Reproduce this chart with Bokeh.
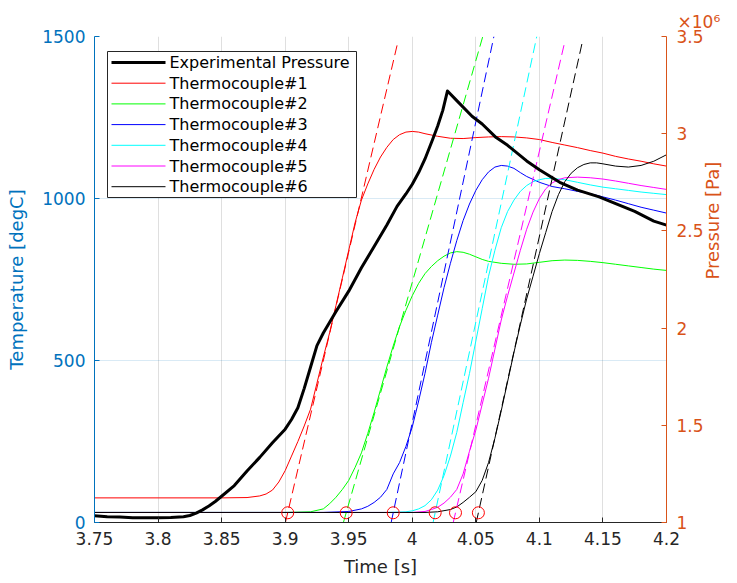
from bokeh.plotting import figure
from bokeh.models import (Range1d, LinearAxis, FixedTicker, Title, ColumnDataSource)
from bokeh.core.properties import value
from bokeh.embed import file_html
from bokeh.resources import INLINE

# ---------------- data ----------------
x_ticks = [3.75, 3.8, 3.85, 3.9, 3.95, 4.0, 4.05, 4.1, 4.15, 4.2]
x_tick_labels = ["3.75", "3.8", "3.85", "3.9", "3.95", "4", "4.05", "4.1", "4.15", "4.2"]
t_ticks = [0, 500, 1000, 1500]
p_ticks = [1.0, 1.5, 2.0, 2.5, 3.0, 3.5]
p_tick_labels = ["1", "1.5", "2", "2.5", "3", "3.5"]

# Experimental pressure (x10^6 Pa)
t_p = [3.75, 3.76, 3.77, 3.78, 3.79, 3.80, 3.81, 3.82, 3.825, 3.83, 3.835, 3.84, 3.845,
       3.85, 3.86, 3.87, 3.88, 3.89, 3.90, 3.905, 3.91, 3.915, 3.92, 3.925, 3.93, 3.935,
       3.94, 3.95, 3.96, 3.97, 3.98, 3.988, 3.995, 4.00, 4.005, 4.01, 4.016, 4.02, 4.024,
       4.0277, 4.035, 4.047, 4.055, 4.066, 4.075, 4.09, 4.10, 4.116, 4.13, 4.147, 4.16,
       4.175, 4.19, 4.20]
pressure = [1.035, 1.030, 1.028, 1.025, 1.024, 1.024, 1.026, 1.030, 1.036, 1.048, 1.065,
            1.085, 1.108, 1.135, 1.19, 1.265, 1.335, 1.41, 1.48, 1.53, 1.59, 1.69, 1.80,
            1.91, 1.975, 2.03, 2.085, 2.19, 2.31, 2.42, 2.53, 2.626, 2.69, 2.74, 2.80, 2.87,
            2.97, 3.04, 3.12, 3.22, 3.17, 3.09, 3.05, 2.98, 2.94, 2.86, 2.815, 2.75, 2.71,
            2.675, 2.64, 2.60, 2.55, 2.53]

# Thermocouple #1 (red)
t_tc1 = [3.75, 3.80, 3.85, 3.87, 3.88, 3.885, 3.89, 3.895, 3.90, 3.905, 3.91, 3.915, 3.92,
         3.925, 3.93, 3.935, 3.94, 3.945, 3.95, 3.955, 3.96, 3.965, 3.97, 3.975, 3.98,
         3.985, 3.99, 3.995, 4.00, 4.005, 4.01, 4.02, 4.03, 4.04, 4.05, 4.06, 4.07, 4.08,
         4.09, 4.10, 4.11, 4.12, 4.13, 4.14, 4.15, 4.16, 4.17, 4.18, 4.19, 4.20]
T_tc1 = [76, 76, 76, 77, 82, 88, 100, 125, 160, 205, 250, 298, 350, 430, 510, 586, 670,
         755, 840, 925, 995, 1045, 1090, 1128, 1158, 1182, 1197, 1205, 1207, 1205, 1200,
         1192, 1186, 1185, 1188, 1190, 1191, 1190, 1187, 1182, 1173, 1165, 1157, 1148,
         1140, 1130, 1122, 1115, 1107, 1100]

# Thermocouple #2 (green)
t_tc2 = [3.75, 3.90, 3.92, 3.93, 3.935, 3.94, 3.945, 3.95, 3.955, 3.96, 3.965, 3.97, 3.975,
         3.98, 3.985, 3.99, 3.995, 4.00, 4.005, 4.01, 4.015, 4.02, 4.025, 4.03, 4.035, 4.04,
         4.045, 4.05, 4.055, 4.06, 4.07, 4.08, 4.09, 4.10, 4.11, 4.12, 4.13, 4.14, 4.15,
         4.16, 4.17, 4.18, 4.19, 4.20]
T_tc2 = [31, 31, 33, 42, 58, 78, 102, 130, 170, 215, 275, 340, 410, 480, 545, 605, 655,
         700, 738, 768, 790, 808, 822, 832, 836, 834, 828, 820, 812, 806, 800, 797, 798,
         803, 808, 810, 809, 806, 802, 797, 792, 787, 782, 778]

# Thermocouple #3 (blue)
t_tc3 = [3.75, 3.93, 3.95, 3.96, 3.965, 3.97, 3.975, 3.98, 3.985, 3.99, 3.995, 4.00, 4.005,
         4.01, 4.015, 4.02, 4.025, 4.03, 4.035, 4.04, 4.045, 4.05, 4.055, 4.06, 4.065, 4.07,
         4.075, 4.08, 4.085, 4.09, 4.10, 4.11, 4.12, 4.13, 4.14, 4.15, 4.16, 4.17, 4.18,
         4.19, 4.20]
T_tc3 = [31, 31, 34, 42, 50, 62, 78, 102, 150, 185, 235, 295, 375, 460, 555, 640, 725, 800,
         870, 932, 983, 1025, 1058, 1082, 1097, 1102, 1100, 1093, 1080, 1068, 1050, 1037,
         1030, 1022, 1015, 1005, 995, 984, 973, 964, 955]

# Thermocouple #4 (cyan)
t_tc4 = [3.75, 3.98, 3.995, 4.00, 4.005, 4.01, 4.015, 4.02, 4.025, 4.03, 4.035, 4.04, 4.045,
         4.05, 4.055, 4.06, 4.065, 4.07, 4.075, 4.08, 4.085, 4.09, 4.095, 4.10, 4.105, 4.11,
         4.12, 4.13, 4.14, 4.15, 4.16, 4.17, 4.18, 4.19, 4.20]
T_tc4 = [31, 31, 33, 36, 42, 52, 70, 100, 145, 205, 278, 370, 460, 560, 660, 760, 840, 910,
         960, 995, 1022, 1040, 1052, 1058, 1062, 1062, 1058, 1050, 1042, 1035, 1030, 1025,
         1020, 1016, 1012]

# Thermocouple #5 (magenta)
t_tc5 = [3.75, 4.00, 4.01, 4.015, 4.02, 4.025, 4.03, 4.035, 4.04, 4.045, 4.05, 4.055, 4.06,
         4.065, 4.07, 4.075, 4.08, 4.085, 4.09, 4.095, 4.10, 4.105, 4.11, 4.115, 4.12, 4.13,
         4.14, 4.15, 4.16, 4.17, 4.18, 4.19, 4.20]
T_tc5 = [31, 31, 34, 40, 47, 60, 78, 102, 150, 220, 285, 365, 445, 535, 625, 700, 770, 840,
         905, 958, 1000, 1030, 1048, 1058, 1064, 1066, 1064, 1060, 1054, 1047, 1040, 1034,
         1028]

# Thermocouple #6 (black)
t_tc6 = [3.75, 4.01, 4.02, 4.03, 4.035, 4.04, 4.045, 4.05, 4.055, 4.06, 4.065, 4.07, 4.075,
         4.08, 4.085, 4.09, 4.095, 4.10, 4.105, 4.11, 4.115, 4.12, 4.125, 4.13, 4.135, 4.14,
         4.145, 4.15, 4.16, 4.17, 4.18, 4.19, 4.20]
T_tc6 = [31, 31, 33, 40, 48, 62, 78, 95, 130, 185, 260, 345, 435, 525, 610, 690, 760, 830,
         895, 960, 1012, 1052, 1078, 1095, 1105, 1110, 1110, 1107, 1100, 1097, 1102, 1115,
         1135]

# Onset points (red circles) and tangent lines (dashed)
onset_t = [3.902, 3.948, 3.985, 4.018, 4.034, 4.052]
onset_T = [30, 30, 30, 30, 30, 30]
tangent_slope = [16770, 13680, 18560, 18390, 16910, 17770]  # degC / s
tangent_top_T = [1480, 1500, 1500, 1500, 1480, 1485]

tc_names = ["Thermocouple#1", "Thermocouple#2", "Thermocouple#3",
            "Thermocouple#4", "Thermocouple#5", "Thermocouple#6"]
tc_colors = ["#FF0000", "#00FF00", "#0000FF", "#00FFFF", "#FF00FF", "#000000"]
tc_t = [t_tc1, t_tc2, t_tc3, t_tc4, t_tc5, t_tc6]
tc_T = [T_tc1, T_tc2, T_tc3, T_tc4, T_tc5, T_tc6]

legend_labels = ["Experimental Pressure"] + tc_names
legend_colors = ["#000000"] + tc_colors
legend_widths = [3, 1, 1, 1, 1, 1, 1]

# ---------------- layout / styling ----------------
FONT = "DejaVu Sans"
BLUE = "#0072BD"
ORANGE = "#D95319"
DARK = "#262626"

W, H = 736, 582
BL, BR, BT, BB = 94, 70, 36, 60
X0, X1 = 3.75, 4.2
Y0, Y1 = 0, 1500

p = figure(width=W, height=H,
           x_range=Range1d(X0, X1), y_range=Range1d(Y0, Y1),
           output_backend="svg", toolbar_location=None,
           min_border_left=BL, min_border_right=BR, min_border_top=BT,
           min_border_bottom=BB)
p.title = Title(text="×10⁶", align="left", offset=583, text_color=ORANGE,
                text_font=FONT, text_font_size="17px", text_font_style="normal",
                standoff=10)
p.extra_y_ranges = {"p": Range1d(1.0, 3.5)}
p.outline_line_color = None
p.background_fill_color = "white"
p.border_fill_color = "white"

xt = FixedTicker(ticks=x_ticks)
yt = FixedTicker(ticks=t_ticks)
p.xaxis.ticker = xt
p.yaxis.ticker = yt
p.xgrid.ticker = xt
p.ygrid.ticker = yt
p.xgrid.grid_line_color = DARK
p.xgrid.grid_line_alpha = 0.15
p.ygrid.grid_line_color = BLUE
p.ygrid.grid_line_alpha = 0.15


def style_axis(ax, col):
    ax.axis_line_color = col
    ax.major_tick_line_color = col
    ax.minor_tick_line_color = None
    ax.major_tick_in = 5
    ax.major_tick_out = 0
    ax.major_label_text_color = col
    ax.major_label_text_font = FONT
    ax.major_label_text_font_size = "17px"
    ax.axis_label_text_color = col
    ax.axis_label_text_font = FONT
    ax.axis_label_text_font_size = "18px"
    ax.axis_label_text_font_style = "normal"


xa = p.xaxis[0]
style_axis(xa, DARK)
xa.major_label_overrides = {v: s for v, s in zip(x_ticks, x_tick_labels)}
xa.axis_label = "Time [s]"
xa.major_label_standoff = 9
xa.axis_label_standoff = 8

ya = p.yaxis[0]
style_axis(ya, BLUE)
ya.axis_label = "Temperature [degC]"
ya.major_label_standoff = 9
ya.axis_label_standoff = 12

ra = LinearAxis(y_range_name="p", ticker=FixedTicker(ticks=p_ticks))
style_axis(ra, ORANGE)
ra.major_label_overrides = {v: s for v, s in zip(p_ticks, p_tick_labels)}
ra.axis_label = "Pressure [Pa]"
ra.major_label_standoff = 10
ra.axis_label_standoff = 6
ra.axis_label_orientation = 1.5707963
p.add_layout(ra, "right")

# ---------------- glyphs ----------------
for col, tt, TT in zip(tc_colors, tc_t, tc_T):
    p.line(tt, TT, line_color=col, line_width=1)

for t0, T0, s, top, dcol in zip(onset_t, onset_T, tangent_slope, tangent_top_T, tc_colors):
    ta = t0 + (0 - T0) / s
    tb = t0 + (top - T0) / s
    p.line([ta, tb], [0, top], line_color=dcol, line_width=1, line_dash="10 5")

src_on = ColumnDataSource(dict(t=onset_t, T=onset_T))
p.scatter("t", "T", source=src_on, marker="circle", size=12, fill_color=None,
          line_color="#FF0000", line_width=1)

p.line(t_p, pressure, y_range_name="p", line_color="#000000", line_width=3,
       line_join="round")

# ---------------- legend (drawn in the frame, positioned in pixels) ----------------
FW = W - BL - BR
FH = H - BT - BB


def px2x(px):
    return X0 + px * (X1 - X0) / FW


def px2y(py):
    return Y1 - py * (Y1 - Y0) / FH


LG_LEFT, LG_TOP, LG_W, LG_H = 13, 15, 249, 146
ROW0, ROW_STEP = 11, 20.7
GL0, GL1, TXT = 4, 58, 62

p.quad(left=[px2x(LG_LEFT)], right=[px2x(LG_LEFT + LG_W)],
       top=[px2y(LG_TOP)], bottom=[px2y(LG_TOP + LG_H)],
       fill_color="white", line_color=DARK, line_width=1)
rows_y = [px2y(LG_TOP + ROW0 + ROW_STEP * i) for i in range(len(legend_labels))]
seg = ColumnDataSource(dict(
    x0=[px2x(LG_LEFT + GL0)] * len(rows_y), x1=[px2x(LG_LEFT + GL1)] * len(rows_y),
    y=rows_y, c=legend_colors, w=legend_widths))
p.segment(x0="x0", y0="y", x1="x1", y1="y", source=seg, line_color="c", line_width="w")
txt = ColumnDataSource(dict(x=[px2x(LG_LEFT + TXT)] * len(rows_y), y=rows_y,
                            t=legend_labels))
p.text(x="x", y="y", text="t", source=txt, text_font=value(FONT),
       text_font_size=value("16px"), text_color="#000000",
       text_baseline="middle", text_align="left")

open("out.html", "w").write(file_html(p, INLINE))
